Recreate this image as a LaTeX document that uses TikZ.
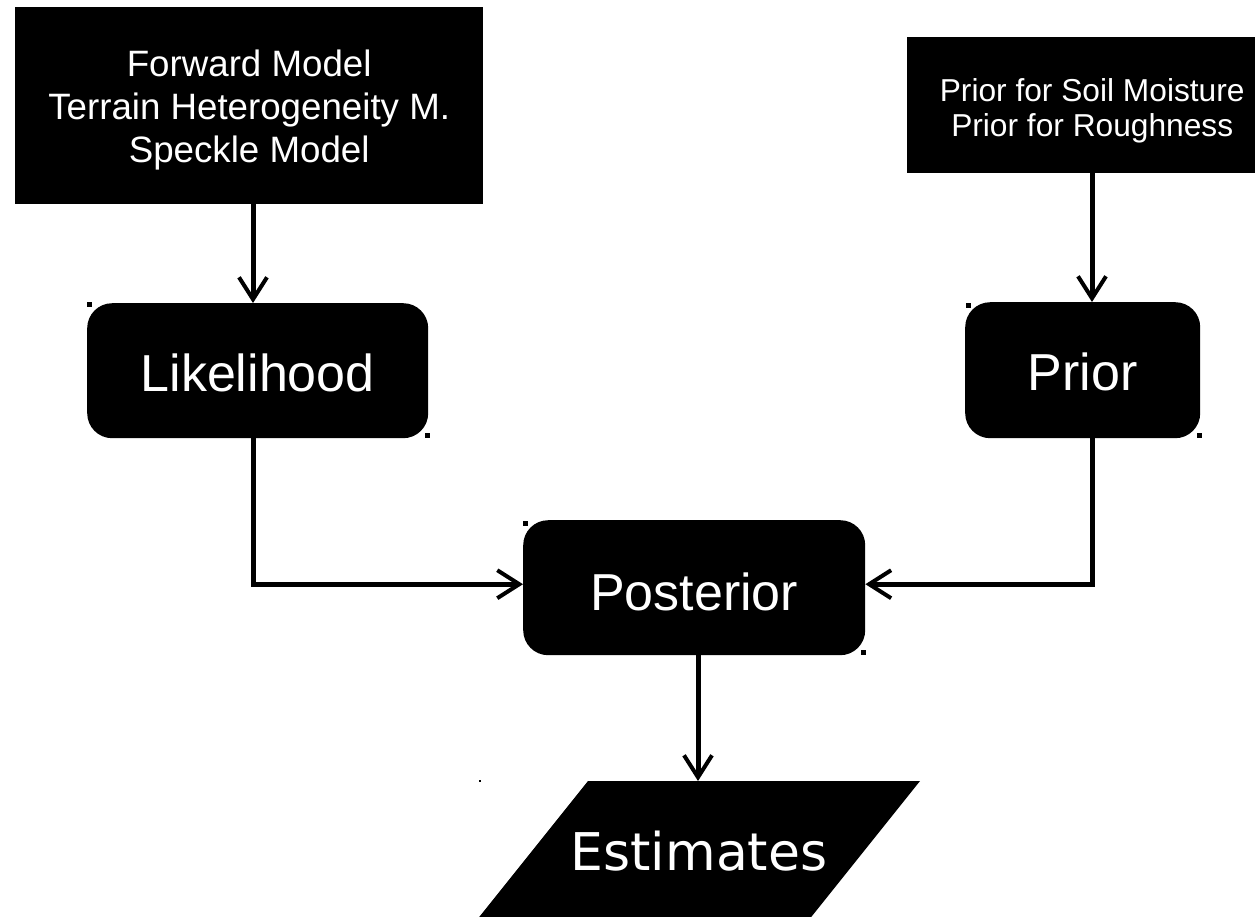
\documentclass[tikz,border=0pt]{standalone}
\usepackage{fontspec}
\setmainfont{Liberation Sans}
\newfontfamily\dejavu{DejaVu Sans}
\usetikzlibrary{arrows.meta}
\begin{document}
\begin{tikzpicture}[x=1pt,y=-1pt,
  box/.style={fill=black,text=white,inner sep=0pt,anchor=north west,align=center},
  rbox/.style={box,rounded corners=25pt},
  boxtext/.style={text=white,align=center,inner sep=0pt},
  bigtext/.style={boxtext,font=\fontsize{52}{60}\selectfont},
  conn/.style={line width=5pt,-{Straight Barb[length=22pt,width=28pt,line width=4pt]}},
  dotmark/.style={fill=black}]
\useasboundingbox (0,0) rectangle (1255,916);
\clip (0,0) rectangle (1255,916);
% boxes
\node[box,minimum width=468pt,minimum height=197pt,
  label={[boxtext,font=\fontsize{36.7}{43}\selectfont,yshift=-4pt]center:{Forward Model\\Terrain Heterogeneity M.\\Speckle Model}}] (fwd) at (15,7) {};
\node[box,minimum width=370pt,minimum height=136pt,
  label={[boxtext,font=\fontsize{31.7}{35}\selectfont,yshift=-6pt]center:{Prior for Soil Moisture\\Prior for Roughness}}] (priors) at (907,37) {};
\node[rbox,minimum width=341pt,minimum height=135pt,
  label={[bigtext,yshift=-2pt]center:Likelihood}] (lik) at (87,303) {};
\node[rbox,minimum width=235pt,minimum height=136pt,
  label={[bigtext,yshift=-2pt]center:Prior}] (pri) at (965,302) {};
\node[rbox,minimum width=342pt,minimum height=135pt,
  label={[bigtext,yshift=-4pt]center:Posterior}] (post) at (523,520) {};
% estimates parallelogram
\fill (588,781) -- (920,781) -- (808,921) -- (476,921) -- cycle;
\node[text=white,font=\dejavu\fontsize{52}{60}\selectfont,anchor=base,inner sep=0pt] (est) at (699,870) {Estimates};
\coordinate (esttop) at (698,781);
\coordinate (lx) at (253,0);
\coordinate (rx) at (1092,0);
% connectors
\draw[conn] (fwd.south -| lx) -- (lik.north -| lx);
\draw[conn] (priors.south -| rx) -- (pri.north -| rx);
\draw[conn] (lik.south -| lx) |- ([yshift=3.5pt]post.west);
\draw[conn] (pri.south -| rx) |- ([yshift=3.5pt]post.east);
\draw[conn] (post.south -| esttop) -- (esttop);
% small corner marks
\foreach \x/\y in {89.5/304.5,427/435.5,968/305,1199/435,525.5/523,863/652.5}
  \fill[dotmark] (\x-2.5,\y-2.5) rectangle ++(5,5);
\fill[dotmark] (479,780) rectangle (481,782);
\end{tikzpicture}
\end{document}
